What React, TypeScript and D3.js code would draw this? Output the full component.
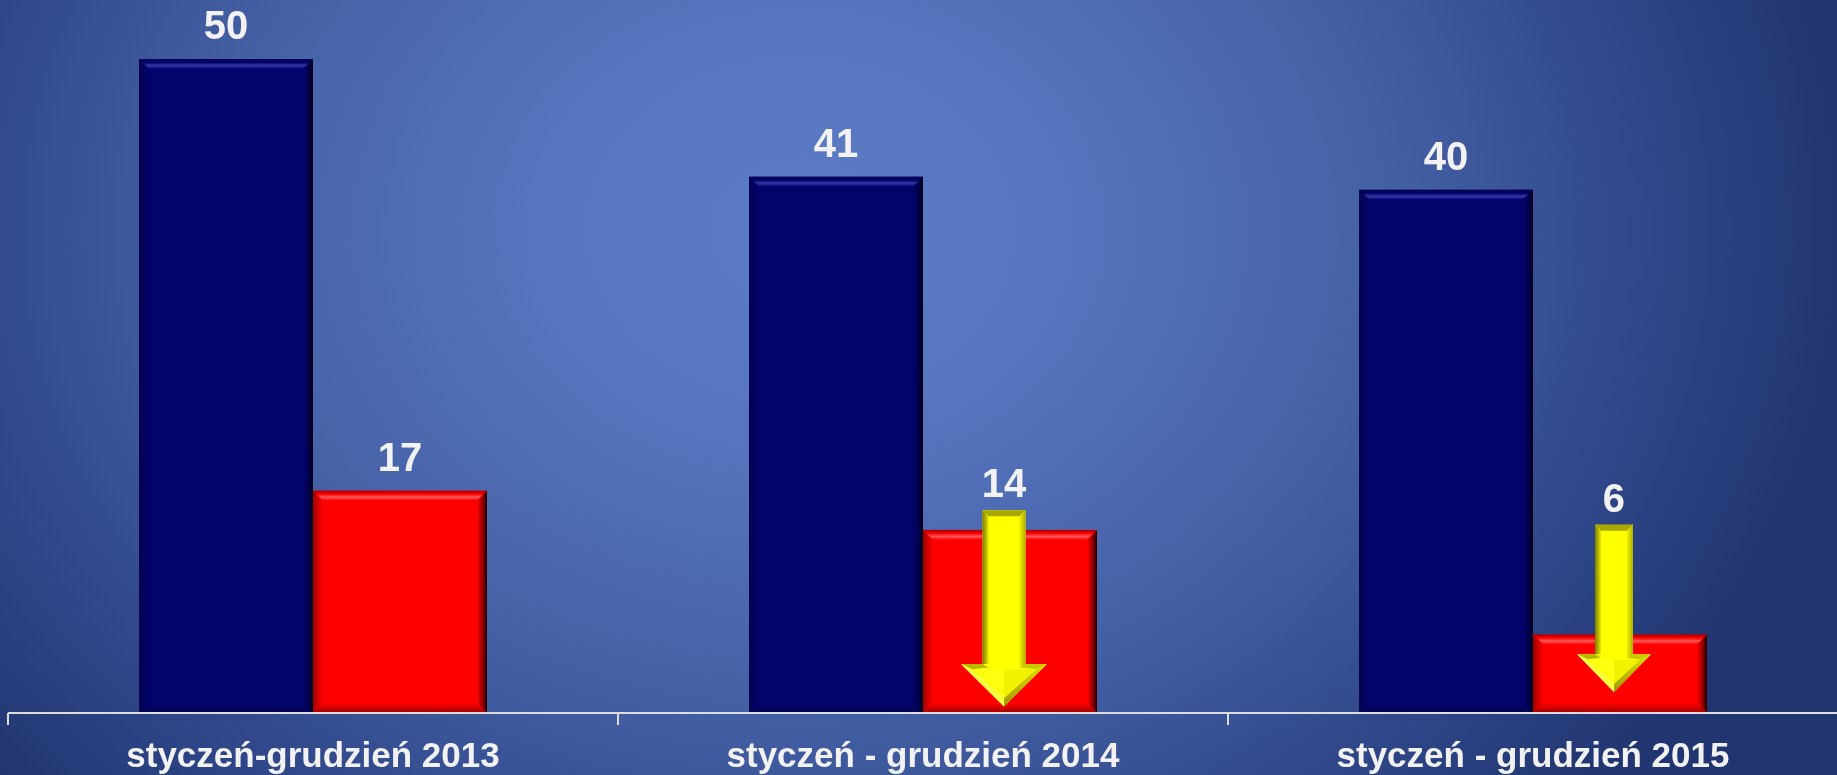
import React from "react";
import * as d3 from "d3";

const categories = ["styczeń-grudzień 2013", "styczeń - grudzień 2014", "styczeń - grudzień 2015"];
const seriesNames = ["a", "b"];
const seriesA = [50, 41, 40];
const seriesB = [17, 14, 6];
// arrow annotations on red bars (value units)
const arrowCats = [1, 2];
const arrowFrom = [15.5, 14.4];
const arrowTo = [0.5, 1.6];
const arrowHeadTop = [3.75, 4.5];

const W = 1837;
const H = 775;
const baseY = 713;

function Bevel({ x, y, w, h, b, id }: any) {
  const pts = (a: number[][]) => a.map((p) => p.join(",")).join(" ");
  return (
    <g>
      <rect x={x} y={y} width={w} height={h} fill={`url(#${id}-main)`} />
      <polygon points={pts([[x, y], [x + w, y], [x + w - b, y + b], [x + b, y + b]])} fill={`url(#${id}-top)`} />
      <polygon points={pts([[x, y], [x + b, y + b], [x + b, y + h - b], [x, y + h]])} fill={`url(#${id}-left)`} />
      <polygon points={pts([[x + w, y], [x + w, y + h], [x + w - b, y + h - b], [x + w - b, y + b]])} fill={`url(#${id}-right)`} />
      <polygon points={pts([[x, y + h], [x + w, y + h], [x + w - b, y + h - b], [x + b, y + h - b]])} fill={`url(#${id}-bottom)`} />
    </g>
  );
}

function BevelDefs({ id, base, light, dark, black }: any) {
  return (
    <>
      <linearGradient id={`${id}-main`} x1="0" y1="0" x2="1" y2="0">
        <stop offset="0" stopColor={base} />
        <stop offset="1" stopColor={base} />
      </linearGradient>
      <linearGradient id={`${id}-top`} x1="0" y1="0" x2="0" y2="1">
        <stop offset="0" stopColor={dark} />
        <stop offset="0.35" stopColor={base} />
        <stop offset="0.65" stopColor={light} />
        <stop offset="1" stopColor={base} />
      </linearGradient>
      <linearGradient id={`${id}-left`} x1="0" y1="0" x2="1" y2="0">
        <stop offset="0" stopColor={dark} />
        <stop offset="1" stopColor={base} />
      </linearGradient>
      <linearGradient id={`${id}-right`} x1="0" y1="0" x2="1" y2="0">
        <stop offset="0" stopColor={base} />
        <stop offset="0.5" stopColor={dark} />
        <stop offset="1" stopColor={black} />
      </linearGradient>
      <linearGradient id={`${id}-bottom`} x1="0" y1="0" x2="0" y2="1">
        <stop offset="0" stopColor={base} />
        <stop offset="1" stopColor={dark} />
      </linearGradient>
    </>
  );
}

function Arrow({ cx, top, headTop, tip, sw, hw }: any) {
  const s0 = cx - sw / 2;
  const s1 = cx + sw / 2;
  const h0 = cx - hw / 2;
  const h1 = cx + hw / 2;
  const b = 6;
  const pts = (a: number[][]) => a.map((p) => p.join(",")).join(" ");
  const outline = [[s0, top], [s1, top], [s1, headTop], [h1, headTop], [cx, tip], [h0, headTop], [s0, headTop]];
  return (
    <g>
      <polygon points={pts(outline)} fill="#ffff00" />
      {/* top cap */}
      <polygon points={pts([[s0, top], [s1, top], [s1 - b, top + b], [s0 + b, top + b]])} fill="#a8a800" />
      {/* shaft left */}
      <polygon points={pts([[s0, top], [s0 + b, top + b], [s0 + b, headTop], [s0, headTop]])} fill="url(#arrL)" />
      {/* shaft right */}
      <polygon points={pts([[s1, top], [s1, headTop], [s1 - b, headTop + b * 0.6], [s1 - b, top + b]])} fill="url(#arrR)" />
      {/* head upper-left flat */}
      <polygon points={pts([[h0, headTop], [s0, headTop], [s0 + b, headTop + b * 0.6], [h0 + b * 1.8, headTop + b * 0.9]])} fill="#b8b800" />
      {/* head upper-right flat */}
      <polygon points={pts([[s1, headTop], [h1, headTop], [h1 - b * 1.8, headTop + b * 0.9], [s1 - b, headTop + b * 0.6]])} fill="#c8c800" />
      {/* head left slope */}
      <polygon points={pts([[h0, headTop], [h0 + b * 1.8, headTop + b * 0.9], [cx, tip - b * 1.4], [cx, tip]])} fill="#ffff40" />
      {/* head right slope */}
      <polygon points={pts([[h1, headTop], [cx, tip], [cx, tip - b * 1.4], [h1 - b * 1.8, headTop + b * 0.9]])} fill="url(#arrHR)" />
      {/* head facets */}
      <polygon points={pts([[h0 + b * 1.8, headTop + b * 0.9], [cx, headTop + b * 0.9], [cx, tip - b * 1.4]])} fill="#ffff10" />
      <polygon points={pts([[cx, headTop + b * 0.9], [h1 - b * 1.8, headTop + b * 0.9], [cx, tip - b * 1.4]])} fill="#f2f200" />
    </g>
  );
}

export default function App() {
  const x0 = d3.scaleBand<number>().domain(d3.range(categories.length)).range([8, W + 1]).padding(0);
  const x1 = d3.scaleBand<string>().domain(seriesNames).range([0, x0.bandwidth()]).paddingInner(0).paddingOuter(0.753);
  const y = d3.scaleLinear().domain([0, 50]).range([baseY, 59]);

  const font = "'Liberation Sans', Arial, sans-serif";
  const labelColor = "#f2f2f2";

  return (
    <div style={{ position: "fixed", left: 0, top: 0 }}>
      <svg width={W} height={H} style={{ display: "block" }}>
        <defs>
          <radialGradient id="bg" gradientUnits="userSpaceOnUse" cx={800} cy={230} r={1000} gradientTransform="translate(800,230) scale(1.05,0.85) translate(-800,-230)">
            <stop offset="0" stopColor="#5b7cc6" />
            <stop offset="0.25" stopColor="#5675be" />
            <stop offset="0.55" stopColor="#4561a6" />
            <stop offset="0.85" stopColor="#2c4384" />
            <stop offset="1" stopColor="#213570" />
          </radialGradient>
          <BevelDefs id="blue" base="#03036c" light="#3535a8" dark="#020250" black="#000018" />
          <BevelDefs id="red" base="#ff0000" light="#ff5a5a" dark="#a00000" black="#200000" />
          <linearGradient id="arrL" x1="0" y1="0" x2="1" y2="0">
            <stop offset="0" stopColor="#7a7a00" />
            <stop offset="1" stopColor="#e6e600" />
          </linearGradient>
          <linearGradient id="arrR" x1="0" y1="0" x2="1" y2="0">
            <stop offset="0" stopColor="#f0f000" />
            <stop offset="1" stopColor="#b0b000" />
          </linearGradient>
          <linearGradient id="arrHR" x1="0" y1="0" x2="0" y2="1">
            <stop offset="0" stopColor="#e0e000" />
            <stop offset="1" stopColor="#9a9a00" />
          </linearGradient>
        </defs>
        <rect x={0} y={0} width={W} height={H} fill="url(#bg)" />

        {categories.map((c, i) => {
          const gx = x0(i)!;
          const ax = gx + x1("a")!;
          const bx = gx + x1("b")!;
          const bw = x1.bandwidth();
          const ai = arrowCats.indexOf(i);
          const arrowCx = bx + bw / 2 - 6;
          const redLabelY = ai >= 0 ? y(arrowFrom[ai]) - 13 : y(seriesB[i]) - 20;
          const redLabelX = ai >= 0 ? arrowCx : bx + bw / 2;
          return (
            <g key={c}>
              <Bevel x={ax} y={y(seriesA[i])} w={bw} h={baseY - y(seriesA[i])} b={10} id="blue" />
              <Bevel x={bx} y={y(seriesB[i])} w={bw} h={baseY - y(seriesB[i])} b={10} id="red" />
              {ai >= 0 && (
                <Arrow
                  cx={arrowCx}
                  top={y(arrowFrom[ai])}
                  headTop={y(arrowHeadTop[ai])}
                  tip={y(arrowTo[ai])}
                  sw={ai === 0 ? 43 : 38}
                  hw={ai === 0 ? 86 : 74}
                />
              )}
              <text x={ax + bw / 2} y={y(seriesA[i]) - 20} textAnchor="middle" fontFamily={font} fontWeight="bold" fontSize={40} fill={labelColor}>
                {seriesA[i]}
              </text>
              <text x={redLabelX} y={redLabelY} textAnchor="middle" fontFamily={font} fontWeight="bold" fontSize={40} fill={labelColor}>
                {seriesB[i]}
              </text>
              <text x={gx + x0.bandwidth() / 2} y={767} textAnchor="middle" fontFamily={font} fontWeight="bold" fontSize={35} fill={labelColor}>
                {c}
              </text>
            </g>
          );
        })}

        <line x1={x0(0)!} x2={W} y1={baseY} y2={baseY} stroke="#dcdcdc" strokeWidth={2} />
        {categories.map((c, i) => (
          <line key={c} x1={x0(i)!} x2={x0(i)!} y1={baseY} y2={baseY + 12} stroke="#dcdcdc" strokeWidth={2} />
        ))}
      </svg>
    </div>
  );
}
